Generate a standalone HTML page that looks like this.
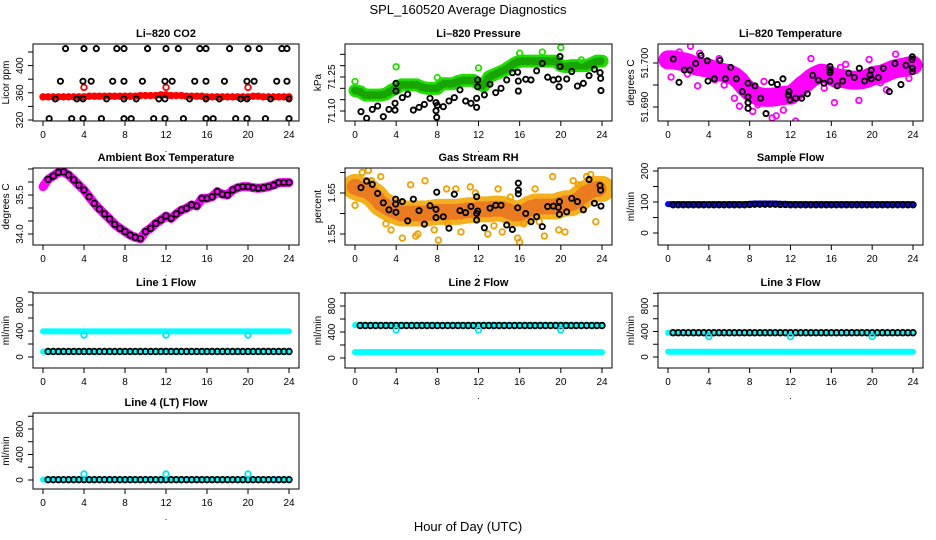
<!DOCTYPE html>
<html><head><meta charset="utf-8">
<style>
html,body{margin:0;padding:0;background:#fff;}
svg{display:block;font-family:"Liberation Sans",sans-serif;}
</style></head>
<body>
<svg id="chart" width="936" height="540" viewBox="0 0 936 540" xmlns="http://www.w3.org/2000/svg">
<rect width="936" height="540" fill="#fff"/>
<text x="468" y="14" text-anchor="middle" font-size="13">SPL_160520  Average Diagnostics</text>
<text x="468" y="531" text-anchor="middle" font-size="13">Hour of Day (UTC)</text>
</svg>
<script>
// ---------- data ----------
const xTicks=[0,4,8,12,16,20,24];
// CO2
const co2Red=[354,354,354,354,354,354,354,354,354,355,355,355,355,355,355,355,355,355,355,356,356,356,356,357,357,356,356,356,355,355,355,355,354,354,354,354,354,354,354,354,354,355,355,354,354,354,354,354,354];
const co2RedOutHours=[4,12,20];
const co2RedOutVals=[368,368,368];
const co2BlkHours=[2.2,4.0,5.2,7.2,7.9,10.2,12.0,13.2,15.3,15.9,18.2,20.0,21.1,23.3,23.8,
1.7,3.9,4.7,6.8,7.9,9.7,11.9,12.6,14.8,15.9,17.7,19.9,20.6,22.8,23.8,
1.2,3.3,3.9,6.2,7.9,9.1,11.3,11.9,14.3,15.9,17.2,19.3,19.9,22.2,24.0,
0.6,2.8,3.9,5.7,7.9,8.6,10.8,11.9,13.7,15.9,16.6,18.8,19.9,21.7,24.0];
const co2BlkVals=[425,425,425,425,425,425,425,425,425,425,425,425,425,425,425,
377,377,377,377,377,377,377,377,377,377,377,377,377,377,377,
351,351,351,351,351,351,351,351,351,351,351,351,351,351,351,
322,322,322,322,322,322,322,322,322,322,322,322,322,322,322];
// Pressure
const presGreen=[71.19,71.185,71.17,71.17,71.17,71.17,71.175,71.19,71.20,71.215,71.215,71.215,71.215,71.205,71.20,71.20,71.20,71.22,71.22,71.22,71.23,71.235,71.235,71.235,71.22,71.21,71.25,71.26,71.27,71.28,71.295,71.31,71.32,71.32,71.32,71.32,71.32,71.32,71.32,71.32,71.30,71.295,71.30,71.30,71.30,71.30,71.31,71.32,71.32];
const presGreenOutHours=[0,4,8,12,16,18.2,20,22];
const presGreenOutVals=[71.23,71.295,71.247,71.29,71.355,71.36,71.38,71.325];
const presBlkHours=[0.58,1.13,1.68,2.2,2.75,3.3,3.89,3.89,3.98,3.98,4.6,5.12,5.67,6.22,6.74,7.29,7.87,7.87,7.94,8.0,8.58,9.13,9.65,10.2,10.75,11.27,11.82,11.82,11.92,11.92,12.57,13.12,13.67,14.19,14.74,15.29,15.81,15.87,15.87,16.59,17.1,17.65,18.2,18.72,19.27,19.76,19.83,19.92,19.92,20.57,21.06,21.61,22.19,22.74,23.26,23.81,23.87,23.9];
const presBlkVals=[71.097,71.068,71.107,71.122,71.075,71.107,71.104,71.134,71.188,71.222,71.159,71.174,71.104,71.116,71.129,71.156,71.137,71.101,71.072,71.125,71.119,71.144,71.159,71.193,71.144,71.134,71.116,71.156,71.207,71.237,71.171,71.218,71.181,71.2,71.237,71.269,71.271,71.232,71.188,71.24,71.237,71.277,71.31,71.249,71.237,71.241,71.207,71.34,71.296,71.241,71.274,71.21,71.222,71.256,71.284,71.269,71.244,71.19];
// Li-820 temperature
const tempMag=[51.7007,51.7007,51.7005,51.7003,51.7000,51.6995,51.6992,51.6990,51.6988,51.6984,51.6980,51.6978,51.6975,51.6970,51.6960,51.6946,51.6935,51.6928,51.6923,51.6922,51.6922,51.6923,51.6925,51.6927,51.6927,51.6935,51.6946,51.6955,51.6965,51.6972,51.6977,51.6975,51.6970,51.6965,51.6965,51.6963,51.6961,51.6961,51.6962,51.6965,51.6970,51.6973,51.6975,51.6980,51.6985,51.6988,51.6990,51.6993,51.6995];
const tempMagOutHours=[0.3,1.1,2.2,2.9,3.1,5.5,7.0,8.3,9.4,10.6,11.3,12.5,13.3,14.0,15.3,16.3,17.4,18.7,19.7,21.4,22.3,23.6,10.2,6.5,0.8,4.6,8.8,13.8,16.9,20.8,1.9,5.0];
const tempMagOutVals=[51.6968,51.7025,51.7038,51.6948,51.7022,51.6950,51.6902,51.6890,51.6958,51.6880,51.6893,51.6868,51.6960,51.7010,51.6943,51.6910,51.6997,51.6915,51.7008,51.6939,51.7020,51.6965,51.6875,51.6920,51.7020,51.6962,51.6905,51.6952,51.6990,51.6955,51.6975,51.7010];
const tempBlkHours=[0.52,1.08,1.6,2.15,2.71,3.23,3.85,3.92,4.54,5.09,5.62,6.14,6.69,7.28,7.84,7.84,7.84,7.84,8.52,9.08,9.6,10.15,10.71,11.26,11.79,11.85,11.95,12.5,13.09,13.65,14.17,14.72,15.28,15.87,15.87,15.87,15.87,16.58,17.11,17.7,18.25,18.74,19.26,19.78,19.91,19.91,20.6,21.09,21.68,22.23,22.82,23.31,23.9,23.93,23.93,23.93];
const tempBlkVals=[51.7009,51.6956,51.6984,51.6984,51.6999,51.7017,51.7005,51.6959,51.6964,51.7006,51.6964,51.699,51.6964,51.6935,51.6954,51.6923,51.691,51.6897,51.6948,51.692,51.6885,51.6956,51.6951,51.6964,51.6927,51.6935,51.6916,51.692,51.692,51.693,51.6972,51.6961,51.6954,51.6992,51.6984,51.6978,51.6959,51.6948,51.6959,51.6977,51.6967,51.6988,51.6959,51.6972,51.6984,51.6964,51.6967,51.6988,51.6935,51.6999,51.6951,51.6995,51.7008,51.7014,51.6988,51.698];
// Ambient box temperature
const ambient=[35.82,36.10,36.23,36.37,36.39,36.27,36.08,35.88,35.69,35.43,35.18,34.96,34.77,34.58,34.37,34.22,34.09,33.96,33.87,33.82,34.09,34.22,34.41,34.54,34.69,34.60,34.77,34.92,34.99,35.12,35.08,35.37,35.37,35.43,35.63,35.53,35.50,35.69,35.78,35.82,35.82,35.78,35.76,35.78,35.82,35.88,35.97,35.98,35.98];
// Gas stream RH
const rhOrange=[1.665,1.660,1.657,1.650,1.640,1.625,1.617,1.610,1.605,1.600,1.600,1.600,1.600,1.600,1.600,1.602,1.604,1.604,1.604,1.604,1.604,1.606,1.608,1.608,1.610,1.610,1.610,1.612,1.612,1.610,1.605,1.600,1.600,1.605,1.612,1.617,1.617,1.617,1.617,1.617,1.622,1.625,1.625,1.630,1.640,1.650,1.657,1.660,1.660];
const rhOutHours=[0.0,0.7,1.3,1.6,2.5,3.5,4.6,5.4,6.1,6.8,7.7,8.1,9.0,9.8,10.3,11.2,12.9,13.5,14.3,15.1,15.8,16.0,16.4,17.5,18.4,19.2,19.8,20.4,21.2,22.5,22.9,23.4,3.0,5.9,8.9,11.7,13.9,17.9,21.7];
const rhOutVals=[1.620,1.700,1.705,1.680,1.690,1.560,1.540,1.670,1.550,1.680,1.560,1.535,1.575,1.660,1.555,1.665,1.550,1.570,1.555,1.640,1.540,1.530,1.575,1.660,1.545,1.690,1.560,1.555,1.680,1.690,1.695,1.580,1.575,1.545,1.660,1.650,1.660,1.580,1.670];
const rhBlkHours=[0.58,1.13,1.68,2.2,2.75,3.3,3.95,3.95,3.98,4.6,5.12,5.67,6.22,6.74,7.29,7.87,7.87,7.94,8.58,9.13,9.65,10.2,10.75,11.27,11.82,11.82,11.82,11.92,12.57,13.12,13.67,14.19,14.74,15.29,15.81,15.87,15.87,15.87,16.59,17.1,17.65,18.2,18.72,19.27,19.76,19.86,19.86,20.57,21.06,21.61,22.19,22.74,23.26,23.81,23.87,23.9];
const rhBlkVals=[1.663,1.679,1.671,1.649,1.626,1.609,1.623,1.635,1.603,1.629,1.582,1.635,1.607,1.574,1.619,1.610,1.590,1.652,1.592,1.564,1.647,1.607,1.602,1.617,1.600,1.584,1.641,1.606,1.565,1.613,1.620,1.620,1.572,1.561,1.614,1.674,1.657,1.648,1.600,1.580,1.592,1.568,1.617,1.618,1.615,1.629,1.598,1.604,1.637,1.629,1.609,1.683,1.625,1.668,1.657,1.618];
// Sample flow
const sampleBlue=[93,93,93,93,93,93,93,93,93,93,93,93,93,93,93,93,94,95,95,95,95,95,94,94,93,93,93,93,93,93,93,93,93,93,93,93,93,93,93,93,93,93,93,93,93,93,93,93,93];
const sampleBlk=[91,91,91,91,91,91,91,91,91,91,91,91,91,91,91,91,92,93,93,93,93,93,92,92,91,91,91,91,91,91,91,91,91,91,91,91,91,91,91,91,91,91,91,91,91,91,91,91,91];
// Line flows
const flowOutHours=[4,12,20];
const line1High=[395,395,395,395,395,395,395,395,395,395,395,395,395,395,395,395,395,395,395,395,395,395,395,395,395,395,395,395,395,395,395,395,395,395,395,395,395,395,395,395,395,395,395,395,395,395,395,395,395];
const line1Low=[82,82,82,82,82,82,82,82,82,82,82,82,82,82,82,82,82,82,82,82,82,82,82,82,82,82,82,82,82,82,82,82,82,82,82,82,82,82,82,82,82,82,82,82,82,82,82,82,82];
const line1Blk=[85,85,85,85,85,85,85,85,85,85,85,85,85,85,85,85,85,85,85,85,85,85,85,85,85,85,85,85,85,85,85,85,85,85,85,85,85,85,85,85,85,85,85,85,85,85,85,85,85];
const line1Out=[338,338,338];
const line2High=[505,505,505,505,505,505,505,505,505,505,505,505,505,505,505,505,505,505,505,505,505,505,505,505,505,505,505,505,505,505,505,505,505,505,505,505,505,505,505,505,505,505,505,505,505,505,505,505,505];
const line2Low=[90,90,90,90,90,90,90,90,90,90,90,90,90,90,90,90,90,90,90,90,90,90,90,90,90,90,90,90,90,90,90,90,90,90,90,90,90,90,90,90,90,90,90,90,90,90,90,90,90];
const line2Blk=[500,500,500,500,500,500,500,500,500,500,500,500,500,500,500,500,500,500,500,500,500,500,500,500,500,500,500,500,500,500,500,500,500,500,500,500,500,500,500,500,500,500,500,500,500,500,500,500,500];
const line2Out=[431,431,431];
const line3High=[381,381,381,381,381,381,381,381,381,381,381,381,381,381,381,381,381,381,381,381,381,381,381,381,381,381,381,381,381,381,381,381,381,381,381,381,381,381,381,381,381,381,381,381,381,381,381,381,381];
const line3Low=[83,83,83,83,83,83,83,83,83,83,83,83,83,83,83,83,83,83,83,83,83,83,83,83,83,83,83,83,83,83,83,83,83,83,83,83,83,83,83,83,83,83,83,83,83,83,83,83,83];
const line3Blk=[381,381,381,381,381,381,381,381,381,381,381,381,381,381,381,381,381,381,381,381,381,381,381,381,381,381,381,381,381,381,381,381,381,381,381,381,381,381,381,381,381,381,381,381,381,381,381,381,381];
const line3Out=[320,320,320];
const line4Cyan=[5,5,5,5,5,5,5,5,5,5,5,5,5,5,5,5,5,5,5,5,5,5,5,5,5,5,5,5,5,5,5,5,5,5,5,5,5,5,5,5,5,5,5,5,5,5,5,5,5];
const line4Blk=[5,5,5,5,5,5,5,5,5,5,5,5,5,5,5,5,5,5,5,5,5,5,5,5,5,5,5,5,5,5,5,5,5,5,5,5,5,5,5,5,5,5,5,5,5,5,5,5,5];
const line4Out=[94,94,94];

// ---------- layout ----------
const NS='http://www.w3.org/2000/svg';
const svg=document.getElementById('chart');
const cols=[{l:33,r:299,x0:43,x24:289},{l:345,r:612,x0:355,x24:602},{l:658,r:923,x0:668,x24:913}];
const rowsT=[44,168,293,413], rowsB=[121,245,368,489];
function mk(tag,attrs,parent){const e=document.createElementNS(NS,tag);for(const k in attrs)e.setAttribute(k,attrs[k]);(parent||svg).appendChild(e);return e;}
let clipId=0;
function makePanel(p){
  const c=cols[p.c], t=rowsT[p.r], b=rowsB[p.r];
  const P={c,t,b,
    x:h=>c.x0+(h/24)*(c.x24-c.x0),
    y:v=>p.ya[1]+(v-p.ya[0])*(p.yb[1]-p.ya[1])/(p.yb[0]-p.ya[0])};
  const g=mk('g',{});
  
  
  const title=mk('text',{x:(c.l+c.r)/2,y:t-7,'text-anchor':'middle','font-size':11,'font-weight':'bold'},g);
  title.textContent=p.title;
  
  
  const yl=mk('text',{transform:`translate(${c.l-24},${(t+b)/2}) rotate(-90)`,'text-anchor':'middle','font-size':10},g);
  yl.textContent=p.ylab;
  
  
  const yTk=p.ticks.map(P.y);
  mk('line',{x1:c.l,x2:c.l,y1:Math.min(...yTk),y2:Math.max(...yTk),stroke:'#000'},g);
  p.ticks.forEach(v=>{const yy=P.y(v);mk('line',{x1:c.l-5,x2:c.l,y1:yy,y2:yy,stroke:'#000'},g);});
  p.labels.forEach((v,i)=>{const yy=P.y(v);const tx=mk('text',{transform:`translate(${c.l-10},${yy}) rotate(-90)`,'text-anchor':'middle','font-size':10},g);tx.textContent=p.labelText?p.labelText[i]:String(v);
    
    });
  mk('line',{x1:c.x0,x2:c.x24,y1:b,y2:b,stroke:'#000'},g);
  xTicks.forEach(h=>{const xx=P.x(h);mk('line',{x1:xx,x2:xx,y1:b,y2:b+5,stroke:'#000'},g);
    const tx=mk('text',{x:xx,y:b+17,'text-anchor':'middle','font-size':10},g);tx.textContent=h;
    
    });
  const dot=mk('text',{x:(c.l+c.r)/2,y:b+31,'text-anchor':'middle','font-size':9},g);dot.textContent='.';
  const id='clip'+(clipId++);
  const cp=mk('clipPath',{id},g);mk('rect',{x:c.l,y:t,width:c.r-c.l,height:b-t},cp);
  P.d=mk('g',{'clip-path':`url(#${id})`},g);
  mk('rect',{x:c.l,y:t,width:c.r-c.l,height:b-t,fill:'none',stroke:'#000'},g);
  return P;
}
function pts(P,hours,vals,color,r,sw,name){
  hours.forEach((h,i)=>{const e=mk('circle',{cx:P.x(h),cy:P.y(vals[i]),r:r||2.8,fill:'none',stroke:color,'stroke-width':sw||1.5},P.d);
    
    });
}
function band(P,vals,color,w,name,dash,op){
  const s=vals.map((v,i)=>P.x(i*0.5)+','+P.y(v)).join(' ');
  const e=mk('polyline',{points:s,fill:'none',stroke:color,'stroke-width':w,'stroke-linecap':'round','stroke-linejoin':'round'},P.d);
  if(dash)e.setAttribute('stroke-dasharray',dash);
  if(op)e.setAttribute('stroke-opacity',op);
  
  
}
function seriesPts(P,vals,color,name,start){
  const hs=[],vs=[];vals.forEach((v,i)=>{if(i*0.5>=(start||0)){hs.push(i*0.5);vs.push(v);}});
  pts(P,hs,vs,color,2.8,1.8,name);
}

// CO2
let P=makePanel({name:'co2-panel',c:0,r:0,title:'Li–820 CO2',ylab:'Licor ppm',ya:[320,120],yb:[420,52],ticks:[320,340,360,380,400,420],labels:[320,360,400]});
band(P,co2Red,'#ff0000',6,'co2-red-band');
seriesPts(P,co2Red,'#ff0000','co2-red-point');
pts(P,co2RedOutHours,co2RedOutVals,'#ff0000',2.8,1.8,'co2-red-outlier');
pts(P,co2BlkHours,co2BlkVals,'#000',2.6,1.9,'co2-black-point');

// Pressure
P=makePanel({name:'pressure-panel',c:1,r:0,title:'Li–820 Pressure',ylab:'kPa',ya:[71.10,111],yb:[71.25,77],ticks:[71.10,71.15,71.20,71.25,71.30,71.35],labels:[71.10,71.25],labelText:['71.10','71.25']});
band(P,presGreen,'#22dd00',13,'pressure-green-band');
band(P,presGreen,'#0d6d00',8,'pressure-green-texture','1 4',0.5);
pts(P,presGreenOutHours,presGreenOutVals,'#22dd00',2.8,1.8,'pressure-green-outlier');
pts(P,presBlkHours,presBlkVals,'#000',2.6,1.9,'pressure-black-point');

// Temperature
P=makePanel({name:'temperature-panel',c:2,r:0,title:'Li–820 Temperature',ylab:'degrees C',ya:[51.700,63],yb:[51.690,107],ticks:[51.690,51.695,51.700],labels:[51.690,51.700],labelText:['51.690','51.700']});
band(P,tempMag,'#ff00ff',19,'temperature-magenta-band');
pts(P,tempMagOutHours,tempMagOutVals,'#ff00ff',2.8,1.8,'temperature-magenta-outlier');
pts(P,tempBlkHours,tempBlkVals,'#000',2.6,1.9,'temperature-black-point');

// Ambient
P=makePanel({name:'ambient-temp-panel',c:0,r:1,title:'Ambient Box Temperature',ylab:'degrees C',ya:[35.5,195],yb:[34.0,234],ticks:[34.0,34.5,35.0,35.5,36.0,36.5],labels:[34.0,35.5],labelText:['34.0','35.5']});
band(P,ambient,'#ff00ff',9,'ambient-magenta-band');
seriesPts(P,ambient,'#000','ambient-black-point',0.5);

// RH
P=makePanel({name:'rh-panel',c:1,r:1,title:'Gas Stream RH',ylab:'percent',ya:[1.65,193],yb:[1.55,234],ticks:[1.55,1.60,1.65,1.70],labels:[1.55,1.65],labelText:['1.55','1.65']});
band(P,rhOrange,'#f5b020',26,'rh-orange-band');
band(P,rhOrange,'#e05020',16,'rh-red-texture','1 5',0.55);
pts(P,rhOutHours,rhOutVals,'#f0a000',2.8,1.8,'rh-orange-outlier');
pts(P,rhBlkHours,rhBlkVals,'#000',2.6,1.9,'rh-black-point');

// Sample flow
P=makePanel({name:'sample-flow-panel',c:2,r:1,title:'Sample Flow',ylab:'ml/min',ya:[0,233],yb:[200,171],ticks:[0,50,100,150,200],labels:[0,100,200]});
band(P,sampleBlue,'#0000ff',6,'sample-blue-band');
seriesPts(P,sampleBlk,'#000','sample-black-point',0.5);

// Line flows
function flowPanel(name,c,r,title,z,e,high,low,blk,out){
  const Q=makePanel({name,c,r,title,ylab:'ml/min',ya:[0,z],yb:[800,e],ticks:[0,200,400,600,800,1000],labels:[0,400,800]});
  if(high){band(Q,high,'#00ffff',6,name+'-cyan-high');}
  band(Q,low,'#00ffff',6,name+'-cyan-low');
  seriesPts(Q,blk,'#000',name+'-black-point',0.5);
  pts(Q,flowOutHours,out,'#00e5ee',2.8,1.8,name+'-cyan-outlier');
}
flowPanel('line1-flow-panel',0,2,'Line 1 Flow',357,305,line1High,line1Low,line1Blk,line1Out);
flowPanel('line2-flow-panel',1,2,'Line 2 Flow',358,306,line2High,line2Low,line2Blk,line2Out);
flowPanel('line3-flow-panel',2,2,'Line 3 Flow',357,306,line3High,line3Low,line3Blk,line3Out);
flowPanel('line4-flow-panel',0,3,'Line 4 (LT) Flow',480,429,null,line4Cyan,line4Blk,line4Out);
</script>
</body></html>
